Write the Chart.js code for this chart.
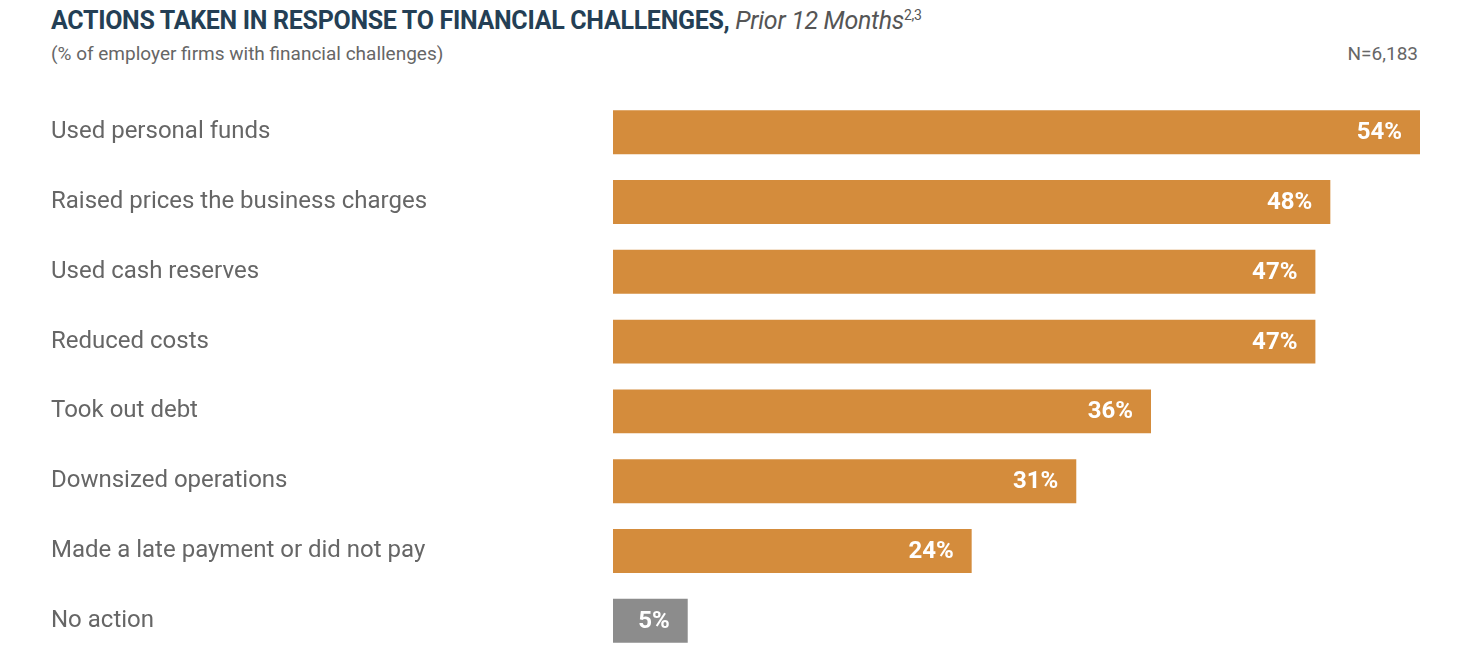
<!DOCTYPE html>
<html lang="en">
<head>
<meta charset="UTF-8">
<title>Actions taken in response to financial challenges</title>
<script src="https://cdn.jsdelivr.net/npm/chart.js"></script>
<style>
    body { margin: 0; background: #fff; font-family: 'Roboto', sans-serif; }
    #title { position: absolute; left: 51px; top: 6px; font-size: 25px; font-weight: bold; color: #243f55; letter-spacing: -0.3px; }
    #title i { font-weight: normal; color: #555; }
    #title sup { font-size: 14px; font-weight: normal; color: #555; }
    #sub { position: absolute; left: 51px; top: 42px; font-size: 19px; color: #666; }
    #n { position: absolute; right: 50px; top: 42px; font-size: 19px; color: #666; }
    #wrap { position: absolute; left: 51px; top: 83px; width: 1369px; height: 587px; }
</style>
</head>
<body>
<div id="title">ACTIONS TAKEN IN RESPONSE TO FINANCIAL CHALLENGES, <i>Prior 12 Months</i><sup>2,3</sup></div>
<div id="sub">(% of employer firms with financial challenges)</div>
<div id="n">N=6,183</div>
<div id="wrap"><canvas id="chart"></canvas></div>
<script>
const categories = ['Used personal funds', 'Raised prices the business charges', 'Used cash reserves', 'Reduced costs',
    'Took out debt', 'Downsized operations', 'Made a late payment or did not pay', 'No action'];
const values = [54, 48, 47, 47, 36, 31, 24, 5];
const colors = ['#d48c3c', '#d48c3c', '#d48c3c', '#d48c3c', '#d48c3c', '#d48c3c', '#d48c3c', '#8c8c8c'];

const barLabels = {
    id: 'barLabels',
    afterDatasetsDraw(chart) {
        const ctx = chart.ctx;
        ctx.save();
        ctx.fillStyle = '#fff';
        ctx.font = 'bold 24px Roboto';
        ctx.textAlign = 'right';
        ctx.textBaseline = 'middle';
        chart.getDatasetMeta(0).data.forEach((bar, i) => {
            ctx.fillText(values[i] + '%', bar.x - 18, bar.y + 1);
        });
        ctx.restore();
    }
};

new Chart(document.getElementById('chart'), {
    type: 'bar',
    data: {
        labels: categories,
        datasets: [{ data: values, backgroundColor: colors, barPercentage: 0.63, categoryPercentage: 1 }]
    },
    options: {
        indexAxis: 'y',
        responsive: true,
        maintainAspectRatio: false,
        animation: false,
        layout: { padding: 0 },
        plugins: { legend: { display: false }, tooltip: { enabled: false } },
        scales: {
            x: { min: 0, max: 54, display: false },
            y: {
                grid: { display: false },
                border: { display: false },
                afterFit(scale) { scale.width = 562; },
                ticks: { crossAlign: 'far', color: '#666', padding: 0, font: { size: 24, family: 'Roboto' } }
            }
        }
    },
    plugins: [barLabels]
});
</script>
</body>
</html>
